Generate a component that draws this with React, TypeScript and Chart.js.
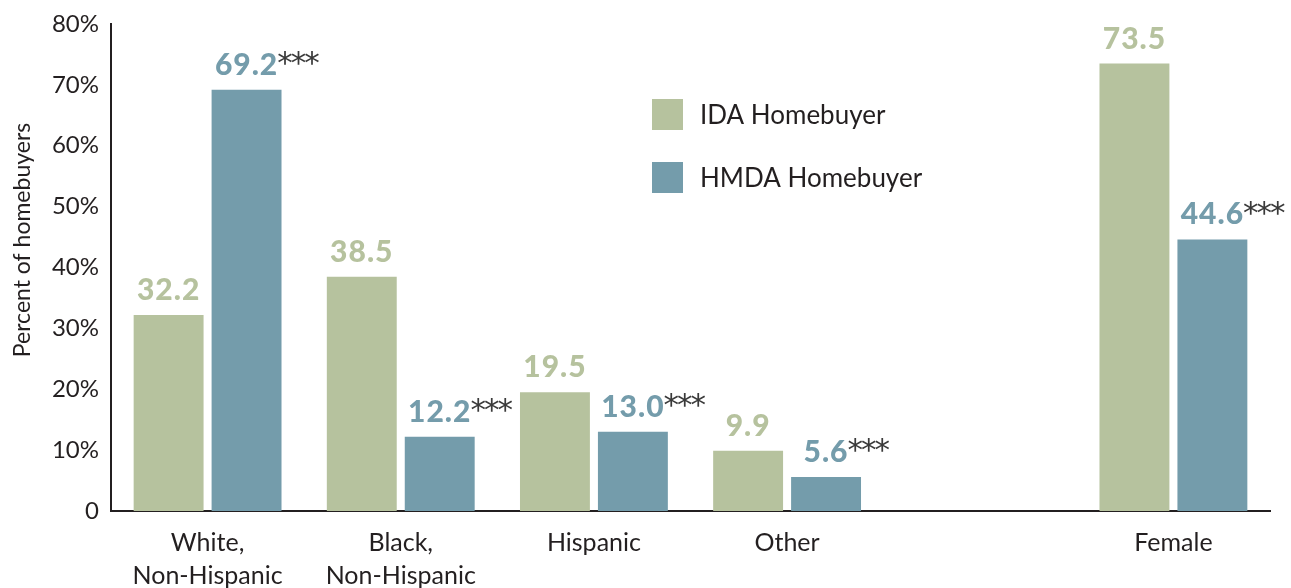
import React, { useEffect, useRef } from "react";
import { Chart, registerables } from "chart.js";

Chart.register(...registerables);

const categories: (string | string[])[] = [
  ["White,", "Non-Hispanic"],
  ["Black,", "Non-Hispanic"],
  "Hispanic",
  "Other",
  "",
  "Female",
];
const idaValues: (number | null)[] = [32.2, 38.5, 19.5, 9.9, null, 73.5];
const hmdaValues: (number | null)[] = [69.2, 12.2, 13.0, 5.6, null, 44.6];
const idaSignificance: string[] = ["", "", "", "", "", ""];
const hmdaSignificance: string[] = ["***", "***", "***", "***", "", "***"];
const yTicks: number[] = [0, 10, 20, 30, 40, 50, 60, 70, 80];
const yTitle = "Percent of homebuyers";

const IDA_COLOR = "#b6c29e";
const HMDA_COLOR = "#749cab";
const TEXT_COLOR = "#231f20";
const FONT = "Lato, 'Open Sans', sans-serif";

const valueLabelPlugin = {
  id: "valueLabels",
  afterDatasetsDraw(chart: any) {
    const ctx = chart.ctx;
    const sigs = [idaSignificance, hmdaSignificance];
    chart.data.datasets.forEach((ds: any, di: number) => {
      const meta = chart.getDatasetMeta(di);
      meta.data.forEach((bar: any, i: number) => {
        const v = ds.data[i];
        if (v === null || v === undefined) return;
        const text = Number(v).toFixed(1);
        ctx.save();
        ctx.font = `900 30px ${FONT}`;
        (ctx as any).letterSpacing = "1px";
        ctx.fillStyle = ds.backgroundColor;
        ctx.textAlign = "center";
        ctx.textBaseline = "alphabetic";
        const baseY = bar.y - 15;
        ctx.fillText(text, bar.x, baseY);
        const w = ctx.measureText(text).width;
        const sig = sigs[di][i];
        if (sig) {
          ctx.font = `31px 'DejaVu Sans', sans-serif`;
          (ctx as any).letterSpacing = "-2px";
          ctx.fillStyle = "#3a3a3a";
          ctx.textAlign = "left";
          ctx.textBaseline = "top";
          ctx.fillText(sig, bar.x + w / 2 - 1, baseY - 25);
        }
        ctx.restore();
      });
    });
  },
};

const customLegendPlugin = {
  id: "customLegend",
  afterDraw(chart: any, _args: any, opts: any) {
    const ctx = chart.ctx;
    ctx.save();
    chart.data.datasets.forEach((ds: any, i: number) => {
      const x = opts.x;
      const y = opts.y + i * opts.spacing;
      ctx.fillStyle = ds.backgroundColor;
      ctx.fillRect(x, y, opts.box, opts.box);
      ctx.fillStyle = TEXT_COLOR;
      ctx.font = `26px ${FONT}`;
      ctx.textAlign = "left";
      ctx.textBaseline = "middle";
      ctx.fillText(ds.label, x + opts.box + 17, y + opts.box / 2 + 1);
    });
    ctx.translate(opts.titleX, opts.titleY);
    ctx.rotate(-Math.PI / 2);
    ctx.font = `23px ${FONT}`;
    ctx.textAlign = "center";
    ctx.textBaseline = "middle";
    ctx.fillStyle = TEXT_COLOR;
    ctx.fillText(yTitle, 0, 0);
    ctx.restore();
  },
};

export default function App() {
  const canvasRef = useRef<HTMLCanvasElement | null>(null);

  useEffect(() => {
    if (!canvasRef.current) return;
    const chart = new Chart(canvasRef.current, {
      type: "bar",
      data: {
        labels: categories,
        datasets: [
          {
            label: "IDA Homebuyer",
            data: idaValues,
            backgroundColor: IDA_COLOR,
            categoryPercentage: 0.807,
            barPercentage: 0.897,
          },
          {
            label: "HMDA Homebuyer",
            data: hmdaValues,
            backgroundColor: HMDA_COLOR,
            categoryPercentage: 0.807,
            barPercentage: 0.897,
          },
        ],
      },
      options: {
        animation: false,
        responsive: true,
        maintainAspectRatio: false,
        layout: { padding: { top: 24, right: 21, bottom: 0, left: 0 } },
        plugins: {
          legend: { display: false },
          tooltip: { enabled: false },
          customLegend: { x: 652, y: 99, box: 31, spacing: 63, titleX: 23, titleY: 240 },
        } as any,
        scales: {
          x: {
            grid: { display: false, drawTicks: false },
            border: { display: true, color: TEXT_COLOR, width: 2 },
            ticks: {
              color: TEXT_COLOR,
              font: { family: FONT, size: 25, lineHeight: 1.33 },
              padding: 15,
              maxRotation: 0,
              autoSkip: false,
            },
            afterFit(scale: any) {
              scale.height = 77;
              scale.paddingLeft = 0;
              scale.paddingRight = 0;
            },
          },
          y: {
            min: 0,
            max: 80,
            afterBuildTicks(scale: any) {
              scale.ticks = yTicks.map((v) => ({ value: v }));
            },
            grid: { display: false, drawTicks: false },
            border: { display: true, color: TEXT_COLOR, width: 2 },
            ticks: {
              color: TEXT_COLOR,
              font: { family: FONT, size: 24 },
              padding: 12,
              callback: (v: any) => (Number(v) === 0 ? "0" : `${v}%`),
            },
            afterFit(scale: any) {
              scale.width = 111;
              scale.paddingTop = 0;
              scale.paddingBottom = 0;
            },
          },
        },
      },
      plugins: [valueLabelPlugin, customLegendPlugin],
    });
    return () => chart.destroy();
  }, []);

  return (
    <div style={{ position: "absolute", left: 0, top: 0, width: 1291, height: 588, background: "#fff" }}>
      <canvas ref={canvasRef} />
    </div>
  );
}
